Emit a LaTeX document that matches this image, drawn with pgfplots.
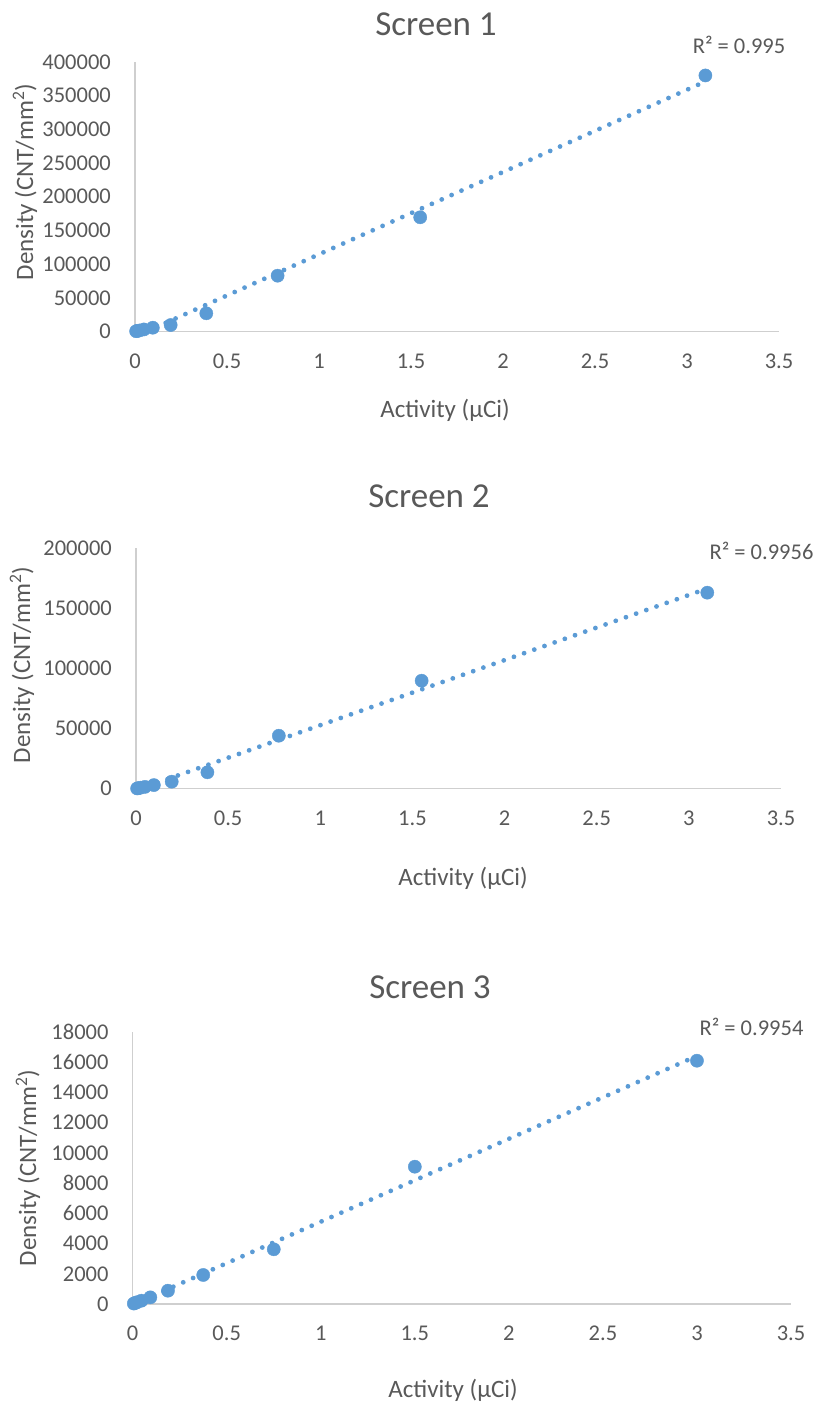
\documentclass[border=0pt]{standalone}
\usepackage{fontspec}
\setmainfont{Carlito}
\usepackage{pgfplots}
\usepackage{pgfplotstable}
\pgfplotsset{compat=1.18}

\definecolor{ptblue}{HTML}{5B9BD5}
\definecolor{txtgray}{HTML}{595959}
\definecolor{axgray}{HTML}{CFCFCF}

% Calibration series: activity (uCi) vs. measured density (CNT/mm^2)
\pgfplotstableread{
x       y
0.0061  400
0.0121  800
0.0242  1500
0.0484  3000
0.0969  5600
0.1938  9600
0.3875  27000
0.775   82800
1.55    169500
3.1     380000
}\screenA
\pgfplotstableread{
x       y
0.0061  200
0.0121  400
0.0242  800
0.0484  1500
0.0969  3000
0.1938  5830
0.3875  13650
0.775   44100
1.55    89900
3.1     163200
}\screenB
\pgfplotstableread{
x       y
0.0059  30
0.0117  60
0.0234  120
0.0469  220
0.0938  440
0.1875  880
0.375   1920
0.75    3620
1.5     9085
3.0     16100
}\screenC

\pgfplotsset{
  screenaxis/.style={
    anchor=south west,
    scale only axis,
    axis lines*=left,
    axis line style={draw=axgray, line width=1.3pt},
    major tick length=0pt,
    xmin=0, xmax=3.5,
    xtick={0,0.5,...,3.5},
    ymin=0,
    scaled y ticks=false,
    clip mode=individual,
    tick label style={font=\fontsize{22.5}{26}\selectfont, text=txtgray, inner sep=0pt},
    xticklabel style={anchor=north, yshift=-22pt},
    yticklabel style={anchor=east, xshift=-24pt,
      /pgf/number format/fixed, /pgf/number format/set thousands separator={}},
    /pgf/number format/assume math mode=true,
  },
  datapts/.style={only marks, mark=*, mark size=6.6pt, color=ptblue},
  trend/.style={no marks, color=ptblue, line width=4.8pt, line cap=round,
    dash pattern=on 0pt off 10.8pt},
}

\tikzset{
  ttl/.style={font=\fontsize{35}{40}\selectfont, text=txtgray, inner sep=0pt},
  rsq/.style={font=\fontsize{22.5}{26}\selectfont, text=txtgray, inner sep=0pt},
  alab/.style={font=\fontsize{25}{30}\selectfont, text=txtgray, inner sep=0pt},
}

\begin{document}
\begin{tikzpicture}[x=1pt, y=1pt]
\path[use as bounding box] (0,0) rectangle (817,1403);

% ---- Screen 1 ----
\begin{axis}[screenaxis, at={(135pt,1071.5pt)}, width=644pt, height=269.5pt,
  ymax=400000, ytick={0,50000,...,400000}]
  \addplot[trend] table[x=x, y={create col/linear regression={y=y}}] {\screenA};
  \addplot[datapts] table[x=x, y=y] {\screenA};
\end{axis}
\node[ttl] at (436,1379) {Screen 1};
\node[rsq] at (739,1358) {R² = 0.995};
\node[alab] at (445,993) {Activity (µCi)};
\node[alab, rotate=90] at (25,1221) {Density (CNT/mm\textsuperscript{2})};

% ---- Screen 2 ----
\begin{axis}[screenaxis, at={(136pt,614.3pt)}, width=645pt, height=240.2pt,
  ymax=200000, ytick={0,50000,...,200000}]
  \addplot[trend] table[x=x, y={create col/linear regression={y=y}}] {\screenB};
  \addplot[datapts] table[x=x, y=y] {\screenB};
\end{axis}
\node[ttl] at (429,907) {Screen 2};
\node[rsq] at (761.5,852.3) {R² = 0.9956};
\node[alab] at (463,525) {Activity (µCi)};
\node[alab, rotate=90] at (22,738) {Density (CNT/mm\textsuperscript{2})};

% ---- Screen 3 ----
\begin{axis}[screenaxis, at={(132.7pt,99pt)}, width=658.3pt, height=272pt,
  ymax=18000, ytick={0,2000,...,18000}]
  \addplot[trend] table[x=x, y={create col/linear regression={y=y}}] {\screenC};
  \addplot[datapts] table[x=x, y=y] {\screenC};
\end{axis}
\node[ttl] at (430,416) {Screen 3};
\node[rsq] at (751.5,376.3) {R² = 0.9954};
\node[alab] at (453,13) {Activity (µCi)};
\node[alab, rotate=90] at (28,235) {Density (CNT/mm\textsuperscript{2})};
\end{tikzpicture}
\end{document}
